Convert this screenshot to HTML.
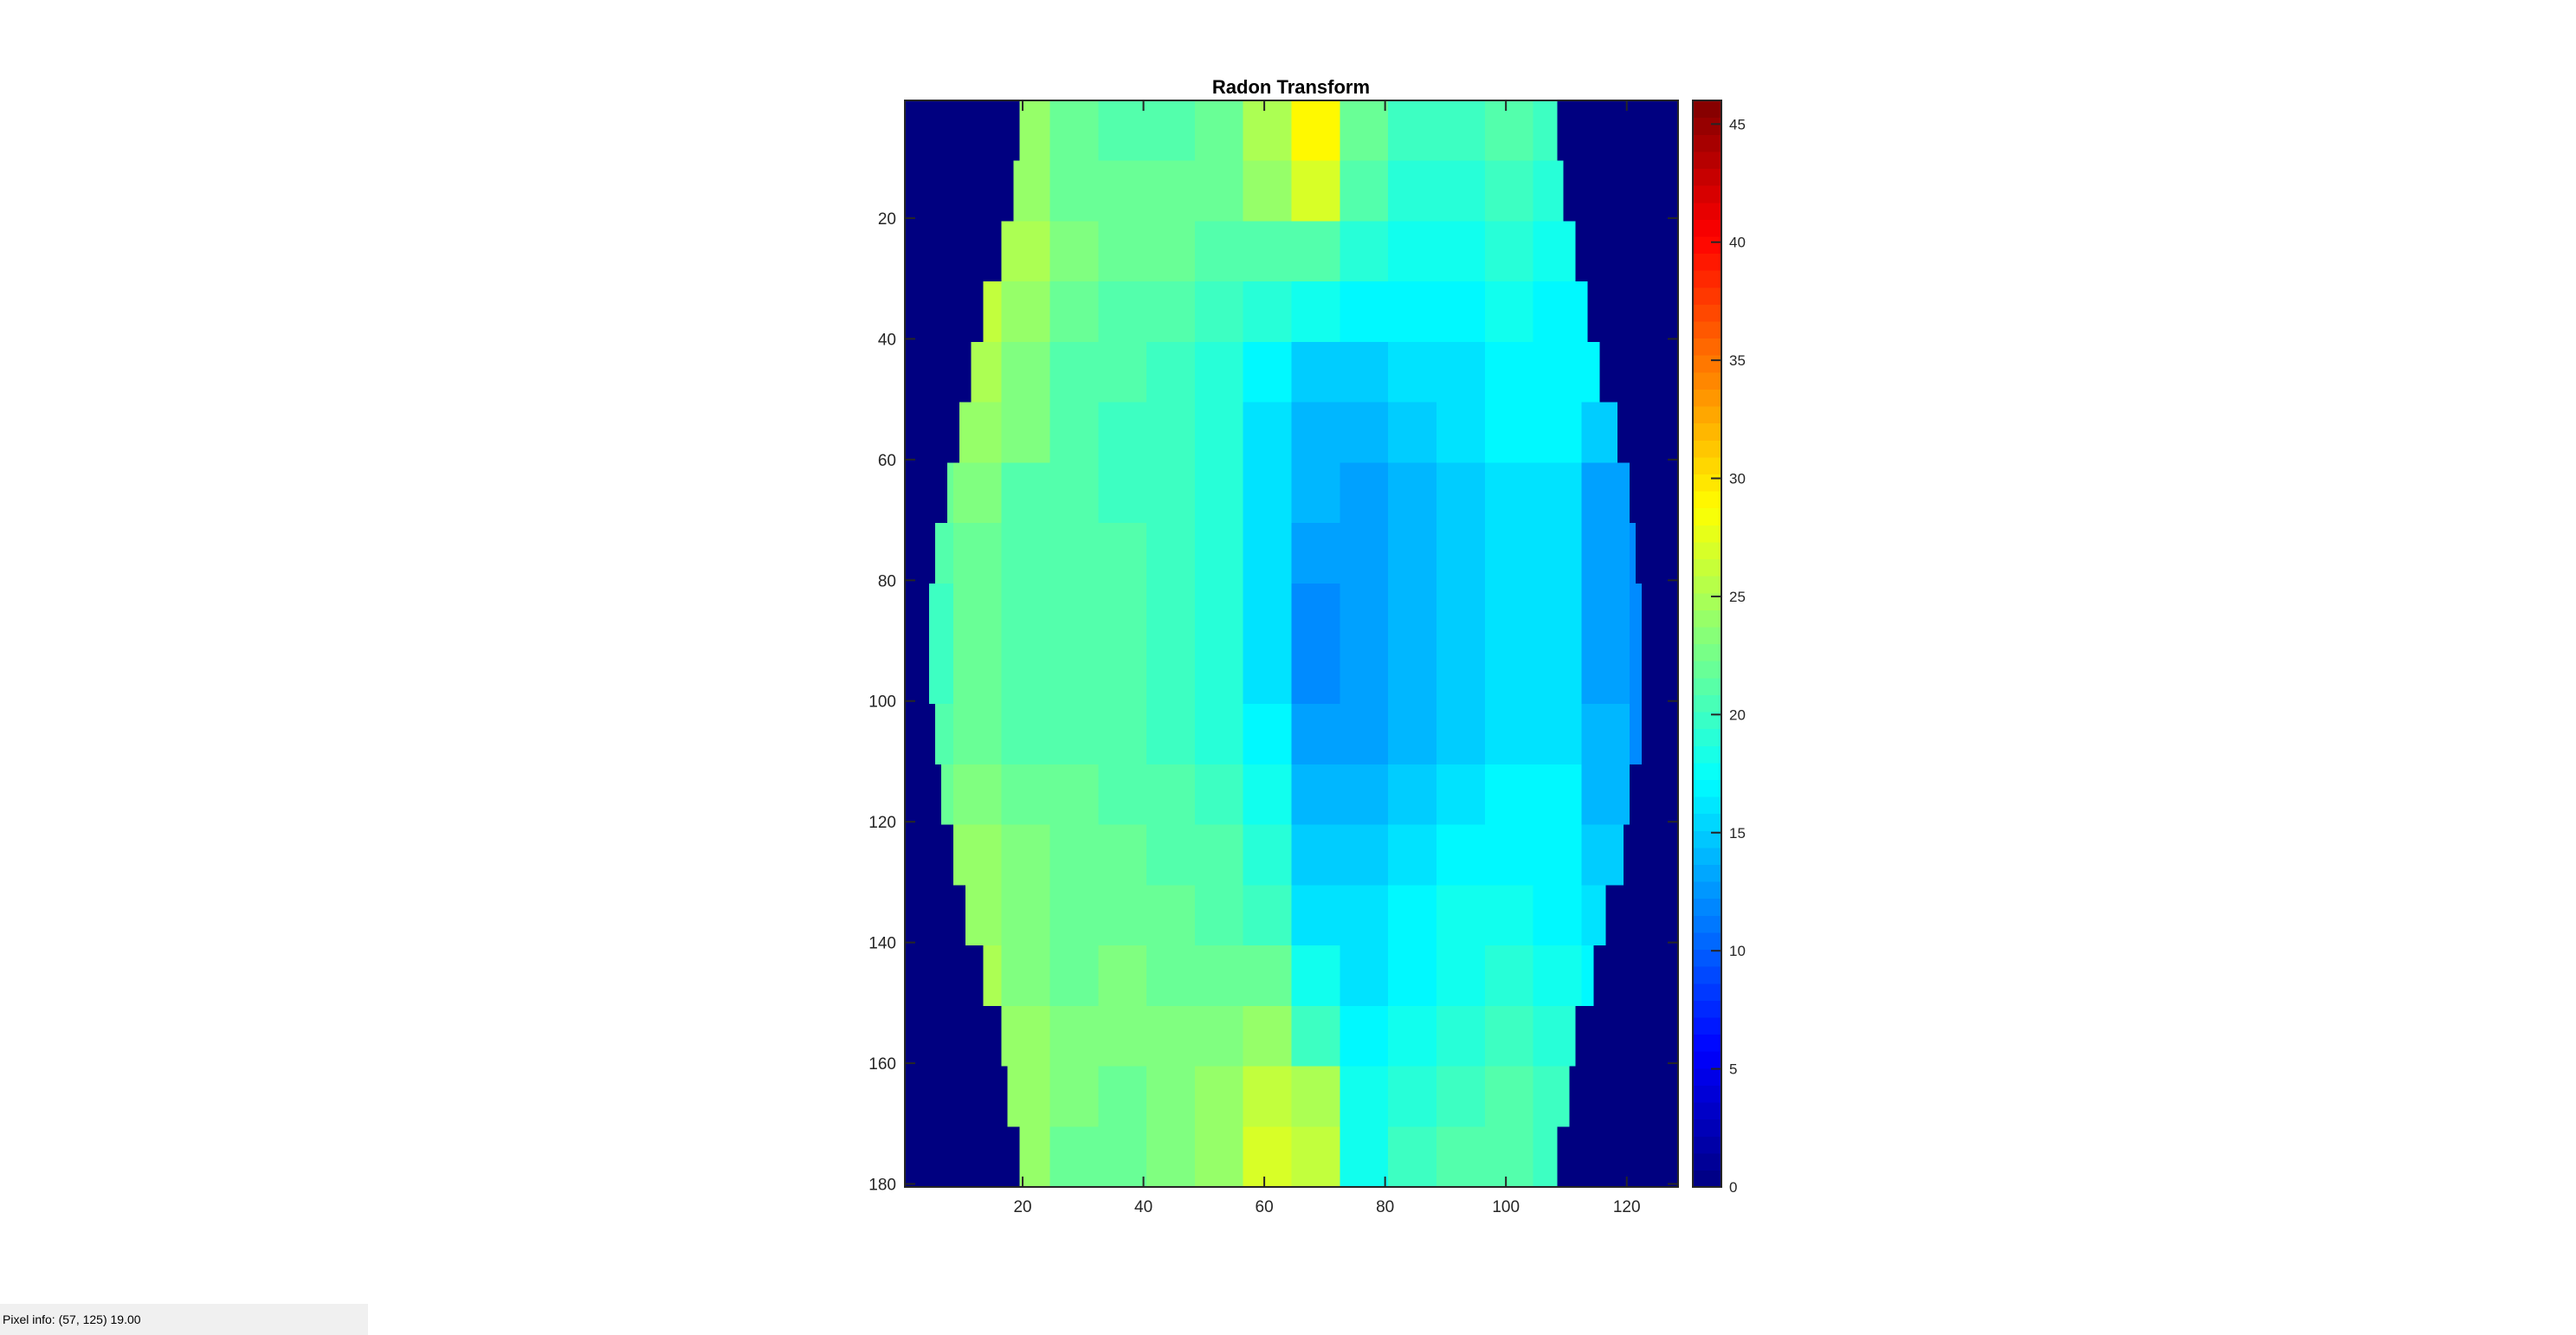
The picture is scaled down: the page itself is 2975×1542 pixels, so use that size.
<!DOCTYPE html>
<html><head><meta charset="utf-8"><style>
html,body{margin:0;padding:0;background:#fff;width:2975px;height:1542px;overflow:hidden}
svg{display:block}
text{font-family:"Liberation Sans",Arial,sans-serif}
</style></head><body>
<svg id="fig" width="2975" height="1542" xmlns="http://www.w3.org/2000/svg">
<text x="1491" y="108" text-anchor="middle" font-size="22" font-weight="bold" fill="#000">Radon Transform</text>
<g id="img" shape-rendering="crispEdges"></g>
<rect x="1045" y="116" width="893" height="1255" fill="none" stroke="#262626" stroke-width="2"/>
<g id="yt"></g>
<g id="xt"></g>
<g id="cb"></g>
<rect x="0" y="1506" width="425" height="36" fill="#f0f0f0"/>
<text x="3" y="1529" font-size="14" fill="#000">Pixel info: (57, 125)  19.00</text>
</svg>
<script>
const bandLeft  = [20,19,17,14,12,10,8,6,5,5,6,7,9,11,14,16,18,20];
const bandRight = [108,109,111,113,115,118,120,121,122,122,122,120,119,116,114,111,110,108];
const grid = [
[0,0,24,22,21,21,22,25,29,22,20,20,21,20,0,0],
[0,0,24,22,22,22,22,24,27,21,19,19,20,19,0,0],
[0,0,25,23,22,22,21,21,21,19,18,18,19,18,0,0],
[0,26,24,22,21,21,20,19,18,17,17,17,18,17,17,0],
[0,25,23,21,21,20,19,17,15,15,16,16,17,17,17,0],
[0,24,23,21,20,20,19,16,14,14,15,16,17,17,15,0],
[22,23,21,21,20,20,19,16,14,13,14,15,16,16,13,12],
[21,22,21,21,21,20,19,16,13,13,14,15,16,16,13,12],
[20,22,21,21,21,20,19,16,12,13,14,15,16,16,13,12],
[20,22,21,21,21,20,19,16,12,13,14,15,16,16,13,12],
[21,22,21,21,21,20,19,17,13,13,14,15,16,16,14,12],
[22,23,22,22,21,21,20,18,14,14,15,16,17,17,14,13],
[0,24,23,22,22,21,21,19,15,15,16,17,17,17,15,0],
[0,24,23,22,22,22,21,20,16,16,17,18,18,17,16,0],
[0,25,23,22,23,22,22,22,18,16,17,18,19,18,17,0],
[0,0,24,23,23,23,23,24,20,17,18,19,20,19,0,0],
[0,0,24,23,22,23,24,26,25,18,19,20,21,20,0,0],
[0,0,24,22,22,23,24,27,26,18,20,21,21,20,0,0]
];
const yTicks = [20,40,60,80,100,120,140,160,180];
const xTicks = [20,40,60,80,100,120];
const cbTicks = [0,5,10,15,20,25,30,35,40,45];
const NS='http://www.w3.org/2000/svg';
const AX=1045, AY=116, AW=893, AH=1255, NC=128, NR=180, VMAX=46;
const cw=AW/NC, rh=AH/NR;
function cl(v){return Math.max(0,Math.min(1,v));}
function jet(v){const t=cl(v/VMAX);const r=cl(1.5-Math.abs(4*t-3)),g=cl(1.5-Math.abs(4*t-2)),b=cl(1.5-Math.abs(4*t-1));
return 'rgb('+Math.round(r*255)+','+Math.round(g*255)+','+Math.round(b*255)+')';}
function mk(tag,at,par){const e=document.createElementNS(NS,tag);for(const k in at)e.setAttribute(k,at[k]);par.appendChild(e);return e;}
const img=document.getElementById('img');
const bg=mk('rect',{x:AX,y:AY,width:AW,height:AH,fill:jet(0)},img);


for(let b=0;b<grid.length;b++){
  const r0=b*10+1, r1=b*10+10;
  for(let g=0;g<grid[b].length;g++){
    const c0=Math.max(g*8+1,bandLeft[b]), c1=Math.min(g*8+8,bandRight[b]);
    if(c1<c0) continue;
    const el=mk('rect',{x:(AX+(c0-1)*cw).toFixed(2),y:(AY+(r0-1)*rh).toFixed(2),width:((c1-c0+1)*cw).toFixed(2),height:((r1-r0+1)*rh).toFixed(2),fill:jet(grid[b][g])},img);
    
    
  }
}
const yt=document.getElementById('yt');
yTicks.forEach(v=>{const y=AY+(v-0.5)*rh;
  mk('line',{x1:AX,x2:AX+12,y1:y,y2:y,stroke:'#262626','stroke-width':2},yt);
  mk('line',{x1:AX+AW-12,x2:AX+AW,y1:y,y2:y,stroke:'#262626','stroke-width':2},yt);
  const t=mk('text',{x:AX-10,y:y+7,'text-anchor':'end','font-size':19,fill:'#262626'},yt);t.textContent=v;
  
  
});
const xt=document.getElementById('xt');
xTicks.forEach(v=>{const x=AX+(v-0.5)*cw;
  mk('line',{x1:x,x2:x,y1:AY+AH-12,y2:AY+AH,stroke:'#262626','stroke-width':2},xt);
  mk('line',{x1:x,x2:x,y1:AY,y2:AY+12,stroke:'#262626','stroke-width':2},xt);
  const t=mk('text',{x:x,y:AY+AH+29,'text-anchor':'middle','font-size':19,fill:'#262626'},xt);t.textContent=v;
  
  
});
const cb=document.getElementById('cb');
const CX=1955,CW=33,CY=116,CH=1255;
for(let i=0;i<64;i++){
  const v=(i+0.5)/64*VMAX;
  mk('rect',{x:CX,y:(CY+CH-(i+1)*CH/64).toFixed(2),width:CW,height:(CH/64+0.6).toFixed(2),fill:jet(v),'shape-rendering':'crispEdges'},cb);
}
mk('rect',{x:CX,y:CY,width:CW,height:CH,fill:'none',stroke:'#262626','stroke-width':2},cb);
cbTicks.forEach(v=>{const y=CY+CH-v/VMAX*CH;
  mk('line',{x1:CX+CW-12,x2:CX+CW,y1:y,y2:y,stroke:'#262626','stroke-width':2},cb);
  const t=mk('text',{x:CX+CW+9,y:y+6,'font-size':17,fill:'#262626'},cb);t.textContent=v;
  
  
});
</script>
</body></html>
